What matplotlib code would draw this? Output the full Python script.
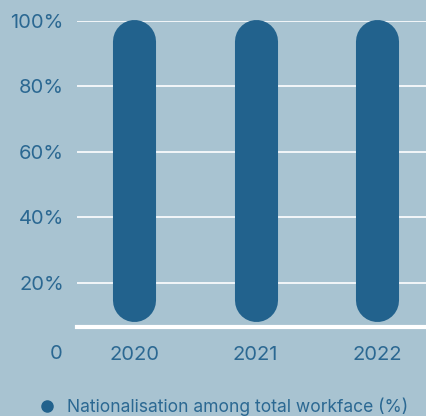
import matplotlib.pyplot as plt
from matplotlib.lines import Line2D

# data
years = ['2020', '2021', '2022']
nationalisation = [100, 100, 100]
y_ticks = [20, 40, 60, 80, 100]
y_tick_labels = ['20%', '40%', '60%', '80%', '100%']

bg = '#a8c3d1'
bar_color = '#22628d'
text_color = '#2b6892'

plt.rcParams['font.family'] = ['Inter', 'DejaVu Sans']

fig = plt.figure(figsize=(4.27, 4.16), dpi=100, facecolor=bg)
ax = fig.add_axes([0.1803, 0.214, 0.8197, 0.7355], facecolor=bg)

y_min = 6.4
ax.set_ylim(y_min, 100)
ax.set_xlim(-0.47, 2.41)

# rounded bars drawn as thick lines with round caps
radius = 6.6  # cap radius in data units (%)
x = list(range(len(years)))
lc = ax.vlines(x, [y_min + 1.5 + radius] * len(x), [v - radius + 0.6 for v in nationalisation],
               colors=bar_color, linewidth=31, zorder=3)
lc.set_capstyle('round')
lc.set_clip_on(False)

# gridlines
for t in y_ticks:
    ax.axhline(t, color='white', lw=1.2, zorder=1)
ax.axhline(y_min, color='white', lw=3, zorder=4, clip_on=False)

for s in ax.spines.values():
    s.set_visible(False)

ax.set_yticks(y_ticks)
ax.set_yticklabels(y_tick_labels)
ax.set_xticks(x)
ax.set_xticklabels(years)
ax.tick_params(axis='both', length=0, labelsize=14.5, labelcolor=text_color)
ax.tick_params(axis='y', pad=9.5)
ax.tick_params(axis='x', pad=14)

# the "0" label sits on the category row
ax.annotate('0', xy=(0, 0), xycoords='axes fraction', xytext=(-10.5, -19.5),
            textcoords='offset points', ha='right', va='center',
            fontsize=14.5, color=text_color)

handle = Line2D([], [], marker='o', ls='none', color=bar_color, markersize=8)
fig.legend([handle], ['Nationalisation among total workface (%)'],
           loc='center', bbox_to_anchor=(0.512, 0.022), frameon=False,
           fontsize=12.6, labelcolor=text_color, handletextpad=0.15, borderaxespad=0)

fig.savefig('out.png', dpi=100, facecolor=bg)
